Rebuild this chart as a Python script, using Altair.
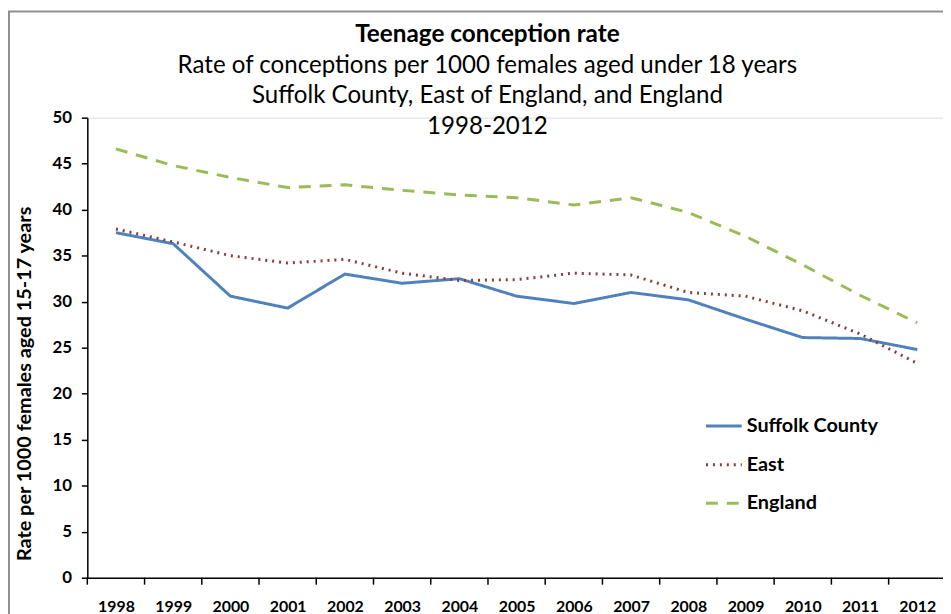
import altair as alt
import pandas as pd

years = list(range(1998, 2013))
series_names = ["Suffolk County", "East", "England"]
suffolk = [37.5, 36.3, 30.6, 29.3, 33.0, 32.0, 32.5, 30.6, 29.8, 31.0, 30.2, 28.1, 26.1, 26.0, 24.8]
east = [37.9, 36.5, 35.0, 34.2, 34.6, 33.1, 32.3, 32.4, 33.1, 32.9, 31.0, 30.6, 29.0, 26.5, 23.3]
england = [46.6, 44.8, 43.5, 42.4, 42.7, 42.1, 41.6, 41.3, 40.5, 41.3, 39.7, 37.1, 34.0, 30.7, 27.7]

y_ticks = list(range(0, 51, 5))
# category boundaries (ticks between years)
boundaries = [y - 0.5 for y in years] + [years[-1] + 0.5]

rows = []
for name, vals in zip(series_names, [suffolk, east, england]):
    for yr, v in zip(years, vals):
        rows.append({"Year": yr, "Series": name, "Rate": v})
df = pd.DataFrame(rows)
ticks_df = pd.DataFrame({"Year": boundaries})

FONT = "Lato, Open Sans, sans-serif"
W, H = 863, 464

colors = ["#4F81BD", "#8C3B3B", "#9BBB59"]
dashes = [[1, 0], [2, 5], [12, 9]]

x_scale = alt.Scale(domain=[1997.5, 2012.45], nice=False, zero=False)

lines = alt.Chart(df).mark_line(strokeWidth=3).encode(
    x=alt.X(
        "Year:Q",
        scale=x_scale,
        axis=alt.Axis(
            title=None,
            values=years,
            format="d",
            tickSize=0,
            domainColor="#000000",
            domainWidth=1.5,
            grid=False,
            labelFont=FONT,
            labelFontSize=16,
            labelFontWeight="bold",
            labelColor="#000000",
            labelPadding=21,
            labelOverlap=False,
            labelFlush=False,
        ),
    ),
    y=alt.Y(
        "Rate:Q",
        scale=alt.Scale(domain=[0, 50], nice=False),
        axis=alt.Axis(
            title="Rate per 1000 females aged 15-17 years",
            values=y_ticks,
            tickSize=6,
            tickColor="#000000",
            tickWidth=1.5,
            domainColor="#000000",
            domainWidth=1.5,
            grid=False,
            labelFont=FONT,
            labelFontSize=17,
            labelFontWeight="bold",
            labelColor="#000000",
            labelPadding=10,
            titleFont=FONT,
            titleFontSize=20,
            titleFontWeight="bold",
            titleColor="#000000",
            titleAngle=-90,
            titleX=-63,
            titleY=268,
            titleAlign="center",
            titleBaseline="middle",
        ),
    ),
    color=alt.Color(
        "Series:N",
        scale=alt.Scale(domain=series_names, range=colors),
        sort=series_names,
        legend=alt.Legend(
            title=None,
            orient="none",
            legendX=622,
            legendY=291,
            symbolType="stroke",
            symbolSize=1300,
            symbolStrokeWidth=3,
            labelFont=FONT,
            labelFontSize=20,
            labelFontWeight="bold",
            labelColor="#000000",
            labelOffset=3,
            rowPadding=9,
        ),
    ),
    strokeDash=alt.StrokeDash(
        "Series:N",
        scale=alt.Scale(domain=series_names, range=dashes),
        sort=series_names,
        legend=alt.Legend(title=None, orient="none", legendX=622, legendY=291),
    ),
)

tick_marks = alt.Chart(ticks_df).mark_rule(color="#000000", strokeWidth=1.5).encode(
    x=alt.X("Year:Q", scale=x_scale),
    y=alt.value(H),
    y2=alt.value(H + 7),
)

frame = alt.Chart(alt.Data(values=[{}])).mark_rect(
    fill=None, stroke="#8f8f8f", strokeWidth=2
).encode(
    x=alt.value(-79),
    x2=alt.value(W + 20),
    y=alt.value(-107),
    y2=alt.value(H + 60),
)

chart = alt.layer(frame, lines, tick_marks).properties(
    width=W,
    height=H,
    title=alt.TitleParams(
        text="Teenage conception rate",
        subtitle=[
            "Rate of conceptions per 1000 females aged under 18 years",
            "Suffolk County, East of England, and England",
            "1998-2012",
        ],
        anchor="middle",
        frame="group",
        dx=-28,
        offset=-131,
        font=FONT,
        fontSize=24.5,
        fontWeight="bold",
        color="#000000",
        subtitleFont=FONT,
        subtitleFontSize=24.3,
        subtitleColor="#000000",
        subtitleLineHeight=31,
        subtitlePadding=7,
    ),
    autosize=alt.AutoSizeParams(type="none"),
    padding={"left": 80, "top": 108, "right": 0, "bottom": 34},
).configure_view(stroke=None).configure(background="#ffffff")

chart.save("out.html", embed_options={"renderer": "svg", "actions": False})
